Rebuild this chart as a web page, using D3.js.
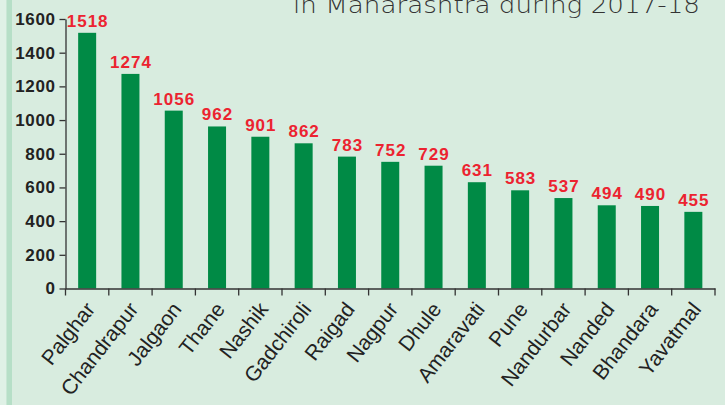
<!DOCTYPE html>
<html><head><meta charset="utf-8">
<script src="https://cdn.jsdelivr.net/npm/d3@7"></script>
<style>html,body{margin:0;padding:0;background:#d8ecdf;overflow:hidden}</style>
</head><body>
<svg id="c" width="725" height="405"></svg>
<script>
const categories = ["Palghar","Chandrapur","Jalgaon","Thane","Nashik","Gadchiroli","Raigad","Nagpur","Dhule","Amaravati","Pune","Nandurbar","Nanded","Bhandara","Yavatmal"];
const values = [1518,1274,1056,962,901,862,783,752,729,631,583,537,494,490,455];
const yTicks = [0,200,400,600,800,1000,1200,1400,1600];
const titleText = "in Maharashtra during 2017-18";

const svg = d3.select("#c");
svg.append("rect").attr("x",0).attr("y",0).attr("width",725).attr("height",405).attr("fill","#d8ecdf");
svg.append("rect").attr("x",0).attr("y",0).attr("width",6.5).attr("height",405).attr("fill","#dff1e6");
svg.append("rect").attr("x",6.5).attr("y",0).attr("width",5.5).attr("height",405).attr("fill","#b6dfc7");

svg.append("text").attr("x",293).attr("y",13).attr("font-family","DejaVu Sans").attr("font-weight",300)
  .attr("font-size",23).attr("fill","#333").attr("textLength",407).attr("lengthAdjust","spacingAndGlyphs").text(titleText);

const x = d3.scaleBand().domain(categories).range([65.5,715]).padding(0);
const y = d3.scaleLinear().domain([0,1600]).range([288.5,19]);
const barW = 18;

svg.selectAll("rect.bar").data(values).join("rect").attr("class","bar")
  .attr("x",(d,i)=>x(categories[i])+x.bandwidth()/2-barW/2)
  .attr("y",d=>y(d)).attr("width",barW).attr("height",d=>y(0)-y(d)).attr("fill","#008a45");

const yAxis = svg.append("g").attr("transform","translate(65.5,0)")
  .call(d3.axisLeft(y).tickValues(yTicks).tickFormat(d3.format("d")).tickSize(6).tickSizeOuter(0).tickPadding(5));
yAxis.select(".domain").attr("stroke","#333").attr("stroke-width",1.3);
yAxis.selectAll(".tick line").attr("stroke","#333").attr("stroke-width",1.3);
yAxis.selectAll(".tick text").attr("font-family","Liberation Sans").attr("font-weight","bold")
  .attr("font-size",17).attr("fill","#222").attr("letter-spacing",0.6).attr("x",-10);

const xAxis = svg.append("g").attr("transform","translate(0,288.5)")
  .call(d3.axisBottom(x).tickSize(0).tickFormat(""));
xAxis.select(".domain").attr("stroke","#333").attr("stroke-width",1.3);
xAxis.selectAll(".tick").remove();
const bounds = categories.map(c=>x(c)).concat([x.range()[1]]);
xAxis.selectAll("line.b").data(bounds).join("line").attr("class","b")
  .attr("x1",d=>d).attr("x2",d=>d).attr("y1",0).attr("y2",7).attr("stroke","#333").attr("stroke-width",1.3);

svg.selectAll("text.cat").data(categories).join("text").attr("class","cat")
  .attr("transform",d=>`translate(${x(d)+x.bandwidth()/2+3},${305}) rotate(-52)`)
  .attr("text-anchor","end").attr("font-family","Liberation Sans").attr("font-size",21).attr("fill","#222")
  .attr("dy","0.35em").text(d=>d);

svg.selectAll("text.val").data(values).join("text").attr("class","val")
  .attr("x",(d,i)=>x(categories[i])+x.bandwidth()/2+0.5).attr("y",d=>y(d)-6)
  .attr("text-anchor","middle").attr("font-family","Liberation Sans").attr("font-weight","bold")
  .attr("font-size",17).attr("letter-spacing",1).attr("fill","#ec2330").text(d=>d);
</script>
</body></html>
